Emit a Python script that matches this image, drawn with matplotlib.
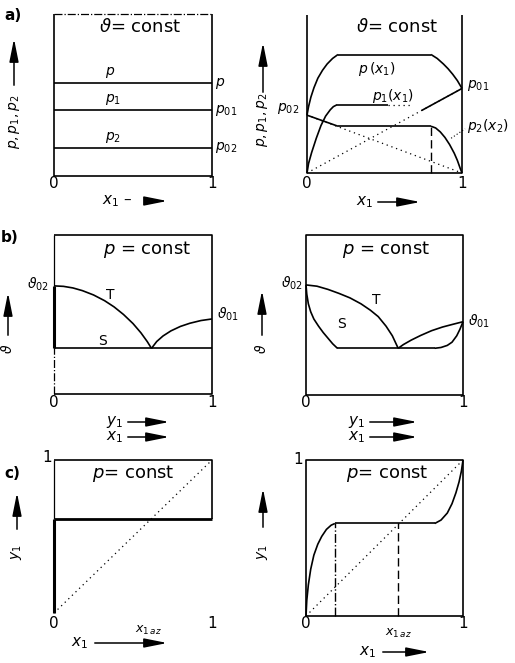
import matplotlib.pyplot as plt
from matplotlib.patches import FancyArrowPatch

plt.rcParams['font.family'] = ['DejaVu Sans']
plt.rcParams['mathtext.fontset'] = 'dejavusans'

# a) partial pressures at constant temperature (fractions of the panel height)
p_tot_a = 0.574
p01_a = 0.407
p02_a = 0.173

# total pressure p(x1), right panel
p_left_x = [0.0, 0.01, 0.025, 0.045, 0.07, 0.1, 0.13, 0.165, 0.2]
p_left_y = [0.366, 0.42, 0.48, 0.54, 0.6, 0.65, 0.69, 0.725, 0.75]
p_right_x = [0.8, 0.84, 0.88, 0.91, 0.94, 0.97, 1.0]
p_right_y = [0.75, 0.725, 0.69, 0.66, 0.625, 0.585, 0.535]
# p1(x1)
p1_left_x = [0.0, 0.01, 0.03, 0.06, 0.09, 0.12, 0.15, 0.17, 0.19]
p1_left_y = [0.0, 0.06, 0.13, 0.22, 0.3, 0.36, 0.4, 0.42, 0.43]
p1_plateau = 0.43
p01_b = 0.535
p02_b = 0.366
# p2(x2)
p2_plateau = 0.296
p2_right_x = [0.8, 0.83, 0.86, 0.89, 0.92, 0.95, 0.97, 0.99, 1.0]
p2_right_y = [0.296, 0.285, 0.26, 0.225, 0.18, 0.125, 0.08, 0.025, 0.0]
x_3ph = [0.2, 0.8]

# b) boiling (S) and dew (T) lines at constant pressure
th02_l, th01_l, th_low_l = 0.68, 0.472, 0.287
T_l1_x = [0.0, 0.06, 0.12, 0.18, 0.25, 0.32, 0.38, 0.44, 0.5, 0.55, 0.59, 0.617]
T_l1_y = [0.68, 0.677, 0.667, 0.65, 0.623, 0.587, 0.548, 0.5, 0.443, 0.385, 0.33, 0.287]
T_l2_x = [0.617, 0.65, 0.69, 0.74, 0.8, 0.86, 0.93, 1.0]
T_l2_y = [0.287, 0.33, 0.365, 0.397, 0.425, 0.445, 0.462, 0.472]

th_low_r = 0.292
T_r1_x = [0.0, 0.07, 0.14, 0.21, 0.28, 0.35, 0.41, 0.46, 0.51, 0.55, 0.587]
T_r1_y = [0.688, 0.68, 0.66, 0.635, 0.607, 0.57, 0.53, 0.49, 0.43, 0.37, 0.292]
T_r2_x = [0.587, 0.62, 0.67, 0.73, 0.8, 0.87, 0.94, 1.0]
T_r2_y = [0.292, 0.315, 0.343, 0.372, 0.402, 0.425, 0.443, 0.458]
S_r1_x = [0.0, 0.005, 0.015, 0.03, 0.05, 0.08, 0.11, 0.14, 0.17, 0.2]
S_r1_y = [0.688, 0.63, 0.57, 0.52, 0.475, 0.43, 0.39, 0.355, 0.32, 0.292]
S_r2_x = [0.82, 0.86, 0.9, 0.93, 0.96, 0.98, 1.0]
S_r2_y = [0.292, 0.297, 0.31, 0.33, 0.37, 0.41, 0.458]

# c) equilibrium curves y1(x1)
y_az_l = 0.615
y_az_r = 0.593
c_r1_x = [0.0, 0.005, 0.015, 0.03, 0.05, 0.075, 0.1, 0.13, 0.16, 0.184]
c_r1_y = [0.0, 0.1, 0.2, 0.3, 0.39, 0.46, 0.51, 0.555, 0.582, 0.593]
c_r2_x = [0.82, 0.86, 0.9, 0.93, 0.955, 0.975, 0.99, 1.0]
c_r2_y = [0.593, 0.615, 0.66, 0.72, 0.79, 0.86, 0.93, 1.0]
x_az_r = 0.587

W, H = 515, 663
fig = plt.figure(figsize=(W / 100, H / 100), dpi=100)


def panel(x0, y0, x1, y1):
    ax = fig.add_axes([x0 / W, 1 - y1 / H, (x1 - x0) / W, (y1 - y0) / H])
    ax.set_xlim(0, 1)
    ax.set_ylim(0, 1)
    ax.set_xticks([])
    ax.set_yticks([])
    for s in ax.spines.values():
        s.set_visible(False)
    ax.patch.set_alpha(0)
    return ax


def ln(ax, x, y, lw=1.2, ls='-'):
    ax.plot(x, y, color='k', lw=lw, ls=ls, clip_on=False,
            solid_capstyle='butt', solid_joinstyle='round')


def txt(x, y, s, size=10, **kw):
    fig.text(x / W, 1 - y / H, s, fontsize=size, ha='center', va='center', **kw)


def arrow(x0, y0, x1, y1):
    fig.add_artist(FancyArrowPatch((x0 / W, 1 - y0 / H), (x1 / W, 1 - y1 / H),
                                   transform=fig.transFigure,
                                   arrowstyle='-|>,head_length=1.0,head_width=0.2',
                                   mutation_scale=14, lw=1.1, color='k'))


def xlabel(x, y, s, a0, a1):
    txt(x, y, s, size=11)
    arrow(a0, y, a1, y)


def ylabel(x, y, s, a0, a1):
    txt(x, y, s, size=10, rotation=90)
    arrow(x, a0, x, a1)


# ---------- a) ----------
txt(13, 16, 'a)', size=11, weight='bold')
ax = panel(54, 14, 212, 176)
ln(ax, [0, 0, 1, 1], [1, 0, 0, 1])
ln(ax, [0, 1], [1, 1], lw=0.9, ls='-.')
for v in (p_tot_a, p01_a, p02_a):
    ln(ax, [0, 1], [v, v])
ax.text(0.32, p_tot_a + 0.05, r'$p$', fontsize=10)
ax.text(0.32, p01_a + 0.05, r'$p_1$', fontsize=10)
ax.text(0.32, p02_a + 0.05, r'$p_2$', fontsize=10)
ax.text(1.02, p_tot_a, r'$p$', fontsize=10, va='center')
ax.text(1.02, p01_a, r'$p_{01}$', fontsize=10, va='center')
ax.text(1.02, p02_a, r'$p_{02}$', fontsize=10, va='center')
txt(140, 27, r'$\vartheta$= const', size=13)
txt(54, 184, '0', size=11)
txt(212, 184, '1', size=11)
xlabel(117, 201, r'$x_1$ –', 148, 170)
ylabel(14, 122, r'$p, p_1, p_2$', 88, 36)

ax = panel(307, 15, 462, 173)
ln(ax, [0, 0, 1, 1], [1, 0, 0, 1])
ln(ax, p_left_x, p_left_y)
ln(ax, [x_3ph[0], x_3ph[1]], [p_left_y[-1], p_right_y[0]])
ln(ax, p_right_x, p_right_y)
ln(ax, p1_left_x, p1_left_y)
ln(ax, [p1_left_x[-1], 0.52], [p1_plateau, p1_plateau])
ln(ax, [0.52, 0.68], [p1_plateau, p1_plateau], lw=0.9, ls=(0, (1, 3)))
ln(ax, [0.74, 1.0], [0.74 * p01_b, p01_b])
ln(ax, [0, x_3ph[0]], [p02_b, p2_plateau])
ln(ax, [x_3ph[0], x_3ph[1]], [p2_plateau, p2_plateau])
ln(ax, p2_right_x, p2_right_y)
ln(ax, [0, 1], [0, p01_b], lw=0.9, ls=(0, (1, 3)))
ln(ax, [0, 1], [p02_b, 0], lw=0.9, ls=(0, (1, 3)))
ln(ax, [x_3ph[1], x_3ph[1]], [0, p2_plateau], lw=1.0, ls=(0, (6, 3)))
ax.text(0.33, 0.63, r'$p\,(x_1)$', fontsize=10)
ax.text(0.42, 0.46, r'$p_1(x_1)$', fontsize=10)
ax.text(1.03, p01_b + 0.02, r'$p_{01}$', fontsize=10, va='center')
ax.text(-0.05, p02_b + 0.04, r'$p_{02}$', fontsize=10, va='center', ha='right')
ax.text(1.03, 0.3, r'$p_2(x_2)$', fontsize=10, va='center')
ln(ax, [0.93, 1.02], [0.22, 0.28], lw=0.8, ls=(0, (1, 2)))
txt(397, 27, r'$\vartheta$= const', size=13)
txt(307, 184, '0', size=11)
txt(462, 184, '1', size=11)
xlabel(365, 202, r'$x_1$', 375, 423)
ylabel(263, 120, r'$p, p_1, p_2$', 95, 40)

# ---------- b) ----------
txt(10, 237, 'b)', size=11, weight='bold')
ax = panel(54, 235, 212, 394)
ln(ax, [0, 1, 1, 0], [1, 1, 0, 0])
ln(ax, [0, 0], [0, th_low_l], lw=0.9, ls='-.')
ln(ax, [0, 0], [th_low_l, th02_l], lw=2.2)
ln(ax, [0, 0], [th02_l, 1], lw=0.9)
ln(ax, [0, 1], [th_low_l, th_low_l])
ln(ax, T_l1_x, T_l1_y)
ln(ax, T_l2_x, T_l2_y)
ax.text(0.33, 0.6, 'T', fontsize=10)
ax.text(0.28, 0.31, 'S', fontsize=10)
ax.text(-0.03, th02_l + 0.01, r'$\vartheta_{02}$', fontsize=10, ha='right', va='center')
ax.text(1.03, th01_l + 0.03, r'$\vartheta_{01}$', fontsize=10, va='center')
txt(147, 250, r'$p$ = const', size=13)
txt(54, 403, '0', size=11)
txt(212, 403, '1', size=11)
xlabel(115, 422, r'$y_1$', 125, 172)
xlabel(115, 437, r'$x_1$', 125, 172)
ylabel(8, 349, r'$\vartheta$', 338, 290)

ax = panel(306, 235, 463, 395)
ln(ax, [0, 0, 1, 1, 0], [0, 1, 1, 0, 0])
ln(ax, T_r1_x, T_r1_y)
ln(ax, T_r2_x, T_r2_y)
ln(ax, S_r1_x, S_r1_y)
ln(ax, [S_r1_x[-1], S_r2_x[0]], [th_low_r, th_low_r])
ln(ax, S_r2_x, S_r2_y)
ax.text(0.42, 0.57, 'T', fontsize=10)
ax.text(0.2, 0.42, 'S', fontsize=10)
ax.text(-0.02, 0.7, r'$\vartheta_{02}$', fontsize=10, ha='right', va='center')
ax.text(1.03, 0.46, r'$\vartheta_{01}$', fontsize=10, va='center')
txt(386, 250, r'$p$ = const', size=13)
txt(306, 403, '0', size=11)
txt(463, 403, '1', size=11)
xlabel(357, 422, r'$y_1$', 367, 420)
xlabel(357, 437, r'$x_1$', 367, 420)
ylabel(262, 349, r'$\vartheta$', 338, 288)

# ---------- c) ----------
txt(12, 474, 'c)', size=11, weight='bold')
ax = panel(54, 460, 212, 613)
ln(ax, [0, 1, 1], [1, 1, y_az_l])
ln(ax, [0, 0], [y_az_l, 1], lw=0.9)
ln(ax, [0, 0], [0, y_az_l], lw=2.2)
ln(ax, [0, 1], [y_az_l, y_az_l], lw=2.0)
ln(ax, [0, 1], [0, 1], lw=0.9, ls=(0, (1, 3)))
txt(47, 458, '1', size=11)
txt(54, 623, '0', size=11)
txt(212, 623, '1', size=11)
ax.text(0.6, -0.07, r'$x_{1\,az}$', fontsize=9, ha='center', va='top')
txt(133, 473, r'$p$= const', size=13)
xlabel(80, 643, r'$x_1$', 92, 170)
ylabel(17, 552, r'$y_1$', 532, 490)

ax = panel(306, 460, 463, 616)
ln(ax, [0, 0, 1, 1, 0], [0, 1, 1, 0, 0])
ln(ax, c_r1_x, c_r1_y)
ln(ax, [c_r1_x[-1], c_r2_x[0]], [y_az_r, y_az_r])
ln(ax, c_r2_x, c_r2_y)
ln(ax, [0, 1], [0, 1], lw=0.9, ls=(0, (1, 3)))
ln(ax, [c_r1_x[-1], c_r1_x[-1]], [0, y_az_r], lw=1.0, ls='-.')
ln(ax, [x_az_r, x_az_r], [0, y_az_r], lw=1.0, ls=(0, (6, 3)))
txt(298, 460, '1', size=11)
txt(306, 624, '0', size=11)
txt(463, 624, '1', size=11)
ax.text(x_az_r, -0.07, r'$x_{1\,az}$', fontsize=9, ha='center', va='top')
txt(387, 473, r'$p$= const', size=13)
xlabel(368, 652, r'$x_1$', 380, 432)
ylabel(263, 552, r'$y_1$', 530, 486)

fig.savefig('out.png', dpi=100)
